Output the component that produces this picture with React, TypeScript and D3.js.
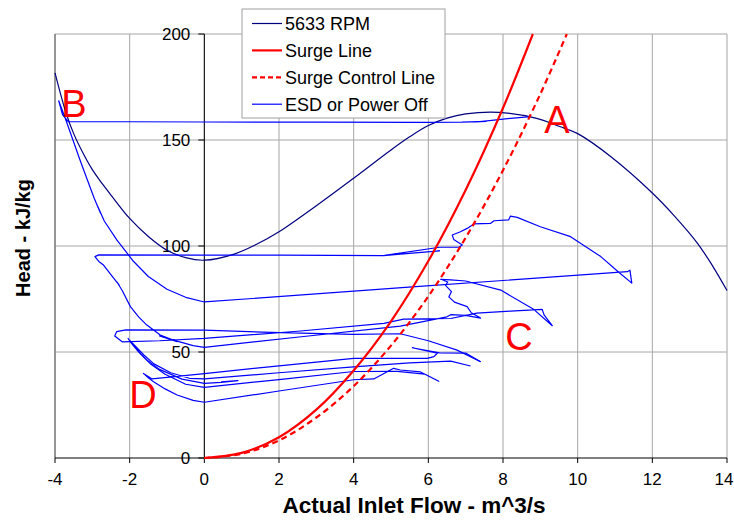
import React from 'react';
import { scaleLinear, line, curveCatmullRom, curveLinear } from 'd3';

type Pt = [number, number];

const xTicks = [-4, -2, 0, 2, 4, 6, 8, 10, 12, 14];
const yTicks = [0, 50, 100, 150, 200];

// 5633 RPM speed line
const speedLine: Pt[] = [
    [-4.0, 181.7], [-3.7, 162.5], [-3.5, 153], [-3.24, 143.5], [-3.0, 136], [-2.74, 129.5],
    [-2.5, 124], [-2.0, 113], [-1.5, 104.5], [-1.0, 98], [-0.5, 94.5], [0, 93.3],
    [0.8, 96.2], [1.4, 100.8], [2.0, 106.7], [3.0, 119], [4.0, 132], [5.0, 145.3],
    [5.5, 151.5], [6.0, 156.8], [6.5, 160.3], [7.0, 162.3], [7.9, 163], [8.9, 160.2],
    [9.5, 156.5], [10.0, 153], [10.9, 142], [12.0, 125], [12.6, 114], [13.2, 101.5],
    [13.6, 91], [14.0, 79]
];

const surgeLine: Pt[] = [
    [0, 0], [1, 2.4], [2, 9.8], [3, 22.8], [4, 41.3], [5, 64.5], [6, 92.9],
    [7, 126.4], [8, 165.1], [8.8, 200]
];

const surgeControlLine: Pt[] = [
    [0, 0], [1, 2.0], [2, 8.3], [3, 19.1], [4, 33.9], [5, 53], [6, 76.3],
    [7, 103.9], [8, 135.7], [9, 171.7], [9.71, 200]
];

// ESD trajectory, first surge cycle (A -> B -> back up)
const esdCycle1: Pt[] = [
    [8.74, 161.0], [8.2, 160.2], [7.7, 159.3], [7.25, 158.5], [7.55, 158.8], [6.9, 158.4],
    [5.8, 158.3], [3.0, 158.4], [0, 158.5], [-2.0, 158.6], [-3.64, 158.6], [-3.8, 162.0],
    [-3.9, 168.5], [-3.74, 161.0], [-3.55, 151.5], [-3.35, 141.5], [-3.14, 131.5], [-2.95, 122.5],
    [-2.78, 115.5], [-2.85, 118.5], [-2.68, 111.8], [-2.34, 102.8], [-1.9, 92.8],
    [-1.5, 85.6], [-1.0, 79.6], [-0.5, 75.8], [0, 73.6], [5.57, 80.7], [11.33, 87.9],
    [11.4, 88.6], [11.45, 82.5], [11.1, 87.6], [10.62, 95.0], [9.81, 104.4], [9.0, 109.1],
    [8.38, 113.5], [8.2, 114.1], [8.15, 112.3], [7.76, 111.9], [7.67, 110.7], [7.22, 110.4],
    [7.04, 108.3], [6.86, 106.7], [6.64, 105.2], [6.68, 103.1], [6.91, 100.5], [6.82, 99.4]
];

// second cycle, through C
const esdCycle2: Pt[] = [
    [6.82, 99.4], [6.3, 99.4], [4.83, 95.6], [6.3, 97.7], [4.8, 95.5], [2.0, 95.7],
    [0, 95.7], [-2.83, 95.8], [-2.93, 95.0], [-2.82, 92.6], [-2.7, 91.0], [-2.43, 84.8],
    [-2.28, 81.5], [-2.34, 83.0], [-2.2, 79.0], [-1.98, 71.4], [-1.76, 66.6], [-1.54, 62.7],
    [-1.18, 58.0], [-0.73, 54.9], [-1.2, 57.6], [-0.73, 55.1], [-0.3, 53.0], [0, 52.2],
    [2.6, 57.2], [5.25, 62.2], [6.5, 66.6], [6.6, 67.6], [7.0, 67.3], [7.4, 66.0], [7.15, 68.5],
    [7.04, 71.4], [6.7, 73.5], [6.55, 76.0], [6.62, 78.5], [6.46, 81.4], [6.52, 83.0],
    [6.33, 84.3], [6.6, 84.0], [7.0, 83.5], [7.94, 79.2], [8.83, 70.0], [9.32, 62.4],
    [9.1, 67.5], [9.05, 70.1], [8.2, 69.3], [7.3, 68.3], [6.6, 65.8], [5.34, 65.5],
    [4.81, 63.5], [2.5, 59.8], [0, 56.4], [-1.2, 55.3], [-2.2, 54.8], [-2.4, 57.5],
    [-2.35, 59.6], [-2.1, 60.4], [0, 60.3], [2.03, 59.1], [4.0, 58.3], [5.25, 58.6],
    [6.0, 55.3], [6.77, 50.9], [7.4, 45.4]
];

// lower cycles, towards D
const esdCycle3: Pt[] = [
    [7.4, 45.4], [7.0, 49.5], [6.3, 49.6], [5.57, 52.0], [6.24, 49.4], [6.15, 47.8],
    [5.97, 47.0], [4.0, 47.0], [2.0, 43.5], [0, 39.8], [-1.4, 37.3], [-1.63, 39.9],
    [-1.5, 37.8], [-1.36, 36.0], [-1.05, 32.6], [-0.73, 29.7], [-0.3, 27.2], [0, 26.3],
    [2.0, 31.6], [4.0, 36.9], [4.54, 37.3], [5.07, 42.3], [5.25, 41.5], [5.79, 40.6],
    [6.28, 36.2], [5.9, 39.6], [5.17, 40.9], [4.0, 40.8], [2.0, 37.0], [0, 33.3], [-0.5, 34.8],
    [-1.05, 39.5], [-1.45, 44.5], [-1.7, 49.0], [-1.9, 53.2], [-2.0, 55.5], [-1.86, 53.0],
    [-1.62, 48.6], [-1.35, 44.4], [-0.9, 40.2], [-0.4, 37.6], [0, 37.3], [2.0, 40.2],
    [4.0, 43.0], [5.5, 44.9], [6.6, 45.7], [7.13, 43.4]
];

const esdCycle4: Pt[] = [
    [-2.05, 56.6], [-1.97, 54.5], [-1.78, 50.4], [-1.55, 46.4], [-1.2, 41.8], [-0.6, 37.2],
    [0, 35.2], [0.45, 35.7], [0.9, 36.5], [0.45, 35.9]
];

const esdCycles = [esdCycle1, esdCycle2, esdCycle3, esdCycle4];

const legendItems = ['5633 RPM', 'Surge Line', 'Surge Control Line', 'ESD or Power Off'];

const WIDTH = 734;
const HEIGHT = 521;
const FONT = '"Liberation Sans", Arial, sans-serif';

const NAVY = '#000080';
const BLUE = '#0000ff';
const RED = '#ff0000';

const App = () => {
    const x = scaleLinear().domain([-4, 14]).range([55, 727]);
    const y = scaleLinear().domain([0, 200]).range([458, 34]);

    const smooth = line<Pt>()
        .x((d) => x(d[0]))
        .y((d) => y(d[1]))
        .curve(curveCatmullRom.alpha(0.5));
    const straight = line<Pt>()
        .x((d) => x(d[0]))
        .y((d) => y(d[1]))
        .curve(curveLinear);

    const legendStyles = [
        { stroke: NAVY, width: 1.2, dash: undefined },
        { stroke: RED, width: 2.2, dash: undefined },
        { stroke: RED, width: 2.2, dash: '5,3' },
        { stroke: BLUE, width: 1.2, dash: undefined }
    ];

    return (
        <svg
            width={WIDTH}
            height={HEIGHT}
            style={{ position: 'absolute', left: 0, top: 0, background: '#fff' }}
            fontFamily={FONT}
        >
            {/* grid */}
            <g stroke="#a6a6a6" strokeWidth={1}>
                {xTicks.map((t) => (
                    <line key={'gx' + t} x1={x(t)} x2={x(t)} y1={y(0)} y2={y(200)} />
                ))}
                {yTicks.filter((t) => t > 0).map((t) => (
                    <line key={'gy' + t} x1={x(-4)} x2={x(14)} y1={y(t)} y2={y(t)} />
                ))}
            </g>
            <line x1={x(-4)} x2={x(-4)} y1={y(0)} y2={y(200)} stroke="#808080" strokeWidth={1.5} />

            {/* axes */}
            <g stroke="#000" strokeWidth={1}>
                <line x1={x(-4)} x2={x(14)} y1={y(0)} y2={y(0)} />
                <line x1={x(0)} x2={x(0)} y1={y(0)} y2={y(200)} />
                {xTicks.map((t) => (
                    <line key={'tx' + t} x1={x(t)} x2={x(t)} y1={y(0)} y2={y(0) + 5} />
                ))}
                {yTicks.map((t) => (
                    <line key={'ty' + t} x1={x(0) - 6} x2={x(0)} y1={y(t)} y2={y(t)} />
                ))}
            </g>
            <g fontSize={17} fill="#000">
                {xTicks.map((t, i) => (
                    <text key={'lx' + t} x={x(t)} dx={i === xTicks.length - 1 ? -3 : 0} y={y(0) + 27} textAnchor="middle">{t}</text>
                ))}
                {yTicks.map((t) => (
                    <text key={'ly' + t} x={x(0) - 14} y={y(t)} dy="0.35em" textAnchor="end">{t}</text>
                ))}
            </g>

            {/* series */}
            <path d={smooth(speedLine) || ''} fill="none" stroke={NAVY} strokeWidth={1.2} />
            {esdCycles.map((c, i) => (
                <path key={'esd' + i} d={straight(c) || ''} fill="none" stroke={BLUE} strokeWidth={1.2} strokeLinejoin="round" />
            ))}
            <path d={smooth(surgeLine) || ''} fill="none" stroke={RED} strokeWidth={2.2} />
            <path d={smooth(surgeControlLine) || ''} fill="none" stroke={RED} strokeWidth={2.2} strokeDasharray="6,4" />

            {/* point labels */}
            <g fill={RED} fontSize={38}>
                <text x={557} y={133} textAnchor="middle">A</text>
                <text x={74} y={117} textAnchor="middle">B</text>
                <text x={519} y={350} textAnchor="middle">C</text>
                <text x={143} y={408} textAnchor="middle">D</text>
            </g>

            {/* axis titles */}
            <text x={414} y={513} textAnchor="middle" fontSize={22.5} fontWeight="bold">Actual Inlet Flow - m^3/s</text>
            <text transform="translate(30,238) rotate(-90)" textAnchor="middle" fontSize={20} fontWeight="bold">Head - kJ/kg</text>

            {/* legend */}
            <g>
                <rect x={242} y={9} width={203} height={109} fill="#fff" stroke="#a0a0a0" />
                {legendItems.map((name, i) => {
                    const ly = 23.5 + i * 26.9;
                    const s = legendStyles[i];
                    return (
                        <g key={name}>
                            <line x1={252} x2={282} y1={ly} y2={ly} stroke={s.stroke} strokeWidth={s.width} strokeDasharray={s.dash} />
                            <text x={285} y={ly} dy="0.36em" fontSize={18}>{name}</text>
                        </g>
                    );
                })}
            </g>
        </svg>
    );
};

export default App;
